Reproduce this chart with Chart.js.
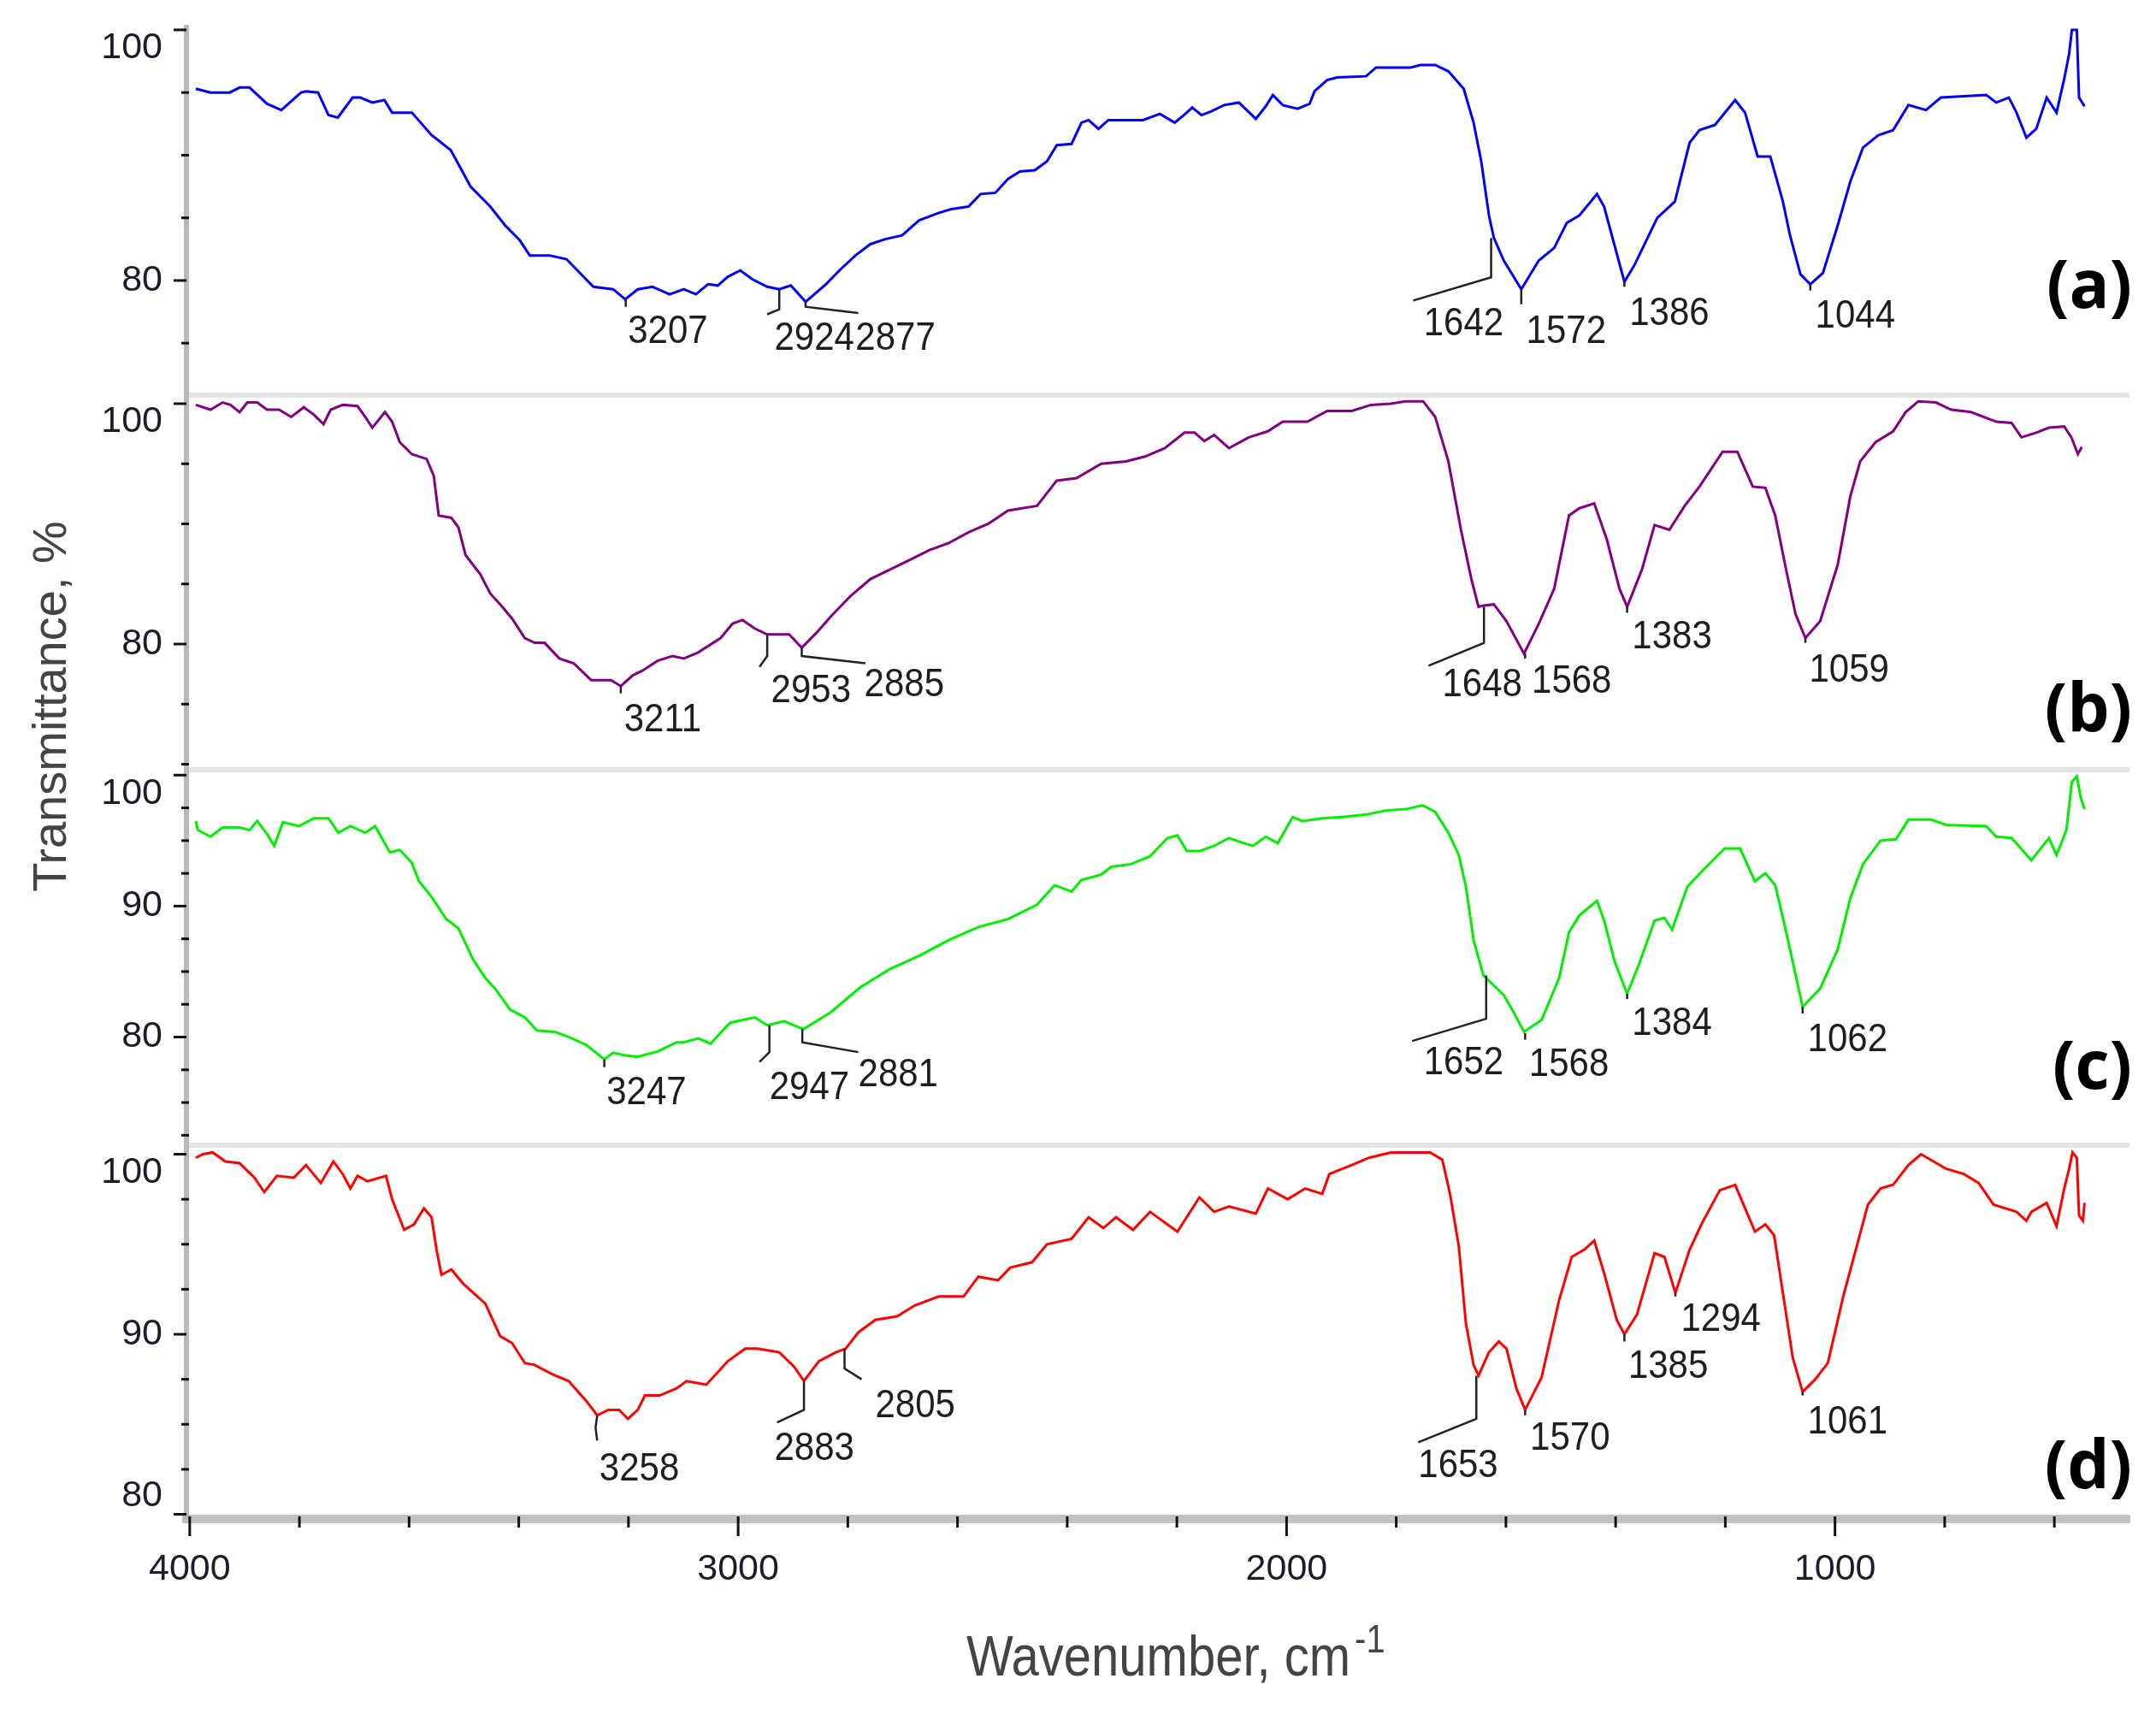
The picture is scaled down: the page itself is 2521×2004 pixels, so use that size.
<!DOCTYPE html>
<html>
<head>
<meta charset="utf-8">
<script src="https://cdn.jsdelivr.net/npm/chart.js@4.4.1/dist/chart.umd.min.js"></script>
<style>
  html, body { margin: 0; padding: 0; background: #fff; }
  #wrap { width: 2521px; height: 2004px; }
</style>
</head>
<body>
<div id="wrap"><canvas id="ftir" width="2521" height="2004"></canvas></div>
<script>
// spectra: wavenumber (cm-1) and transmittance (%)
const wnA = [3989,3962,3927,3909,3891,3859,3833,3797,3788,3766,3747,3730,3703,3689,3667,3645,3631,3595,3559,3524,
  3488,3452,3425,3398,3380,3344,3313,3264,3228,3206,3183,3156,3125,3099,3077,3055,3037,3019,2996,2974,
  2947,2925,2904,2877,2840,2813,2786,2759,2732,2701,2670,2634,2611,2580,2558,2531,2508,2486,2459,2437,
  2419,2392,2374,2361,2343,2325,2293,2262,2231,2204,2190,2172,2155,2137,2114,2087,2056,2038,2025,2007,
  1980,1958,1949,1926,1908,1855,1837,1774,1756,1729,1705,1677,1659,1645,1631,1622,1604,1572,1540,1512,
  1489,1466,1434,1421,1402,1384,1366,1324,1292,1265,1247,1219,1182,1164,1141,1118,1095,1082,1063,1045,
  1022,995,972,949,921,894,866,834,807,724,706,683,669,651,633,614,596,582,573,568,559,555,545];
const tA = [95.3,95.0,95.0,95.4,95.4,94.1,93.6,95.0,95.1,95.0,93.2,93.0,94.6,94.6,94.2,94.4,93.4,93.4,91.6,90.4,
  87.5,85.9,84.4,83.2,82.0,82.0,81.7,79.5,79.3,78.5,79.3,79.5,78.9,79.3,78.9,79.7,79.6,80.3,80.8,80.1,
  79.5,79.3,79.6,78.3,79.7,80.9,82.0,82.9,83.3,83.6,84.8,85.4,85.7,85.9,86.9,87.0,88.1,88.7,88.8,89.5,
  90.8,90.9,92.6,92.8,92.1,92.8,92.8,92.8,93.3,92.6,93.1,93.8,93.2,93.5,94.0,94.2,92.9,93.9,94.8,94.0,
  93.7,94.1,95.1,96.0,96.2,96.3,97.0,97.0,97.2,97.2,96.7,95.3,92.6,89.5,85.2,83.4,81.6,79.3,81.6,82.6,
  84.6,85.2,86.9,85.9,82.8,79.9,81.2,85.0,86.3,91.0,92.0,92.4,94.4,93.4,89.9,89.9,86.3,83.6,80.5,79.7,
  80.6,84.4,87.9,90.6,91.6,92.0,94.0,93.6,94.6,94.8,94.2,94.6,93.4,91.4,92.1,94.6,93.4,96.1,98.1,100.0,100.0,94.6,93.9];

const wnB = [3989,3962,3940,3926,3909,3895,3877,3859,3837,3815,3792,3774,3756,3743,3721,3694,3680,3667,3644,3631,
  3617,3595,3568,3555,3546,3523,3510,3497,3470,3452,3430,3412,3389,3371,3353,3326,3300,3268,3232,3214,
  3192,3174,3147,3120,3099,3073,3032,3010,2992,2970,2947,2907,2884,2858,2831,2795,2759,2723,2687,2652,
  2616,2580,2544,2508,2455,2419,2383,2338,2293,2258,2222,2186,2168,2150,2132,2105,2069,2034,2007,1962,
  1926,1881,1846,1810,1783,1751,1729,1705,1682,1663,1650,1640,1622,1599,1567,1540,1512,1485,1466,
  1439,1416,1393,1379,1352,1329,1302,1274,1247,1205,1178,1150,1127,1109,1091,1072,1054,1027,995,972,
  954,926,894,871,848,816,788,752,706,678,660,632,610,582,569,557,550];
const tB = [99.9,99.5,100.1,99.9,99.3,100.1,100.1,99.5,99.5,98.9,99.7,99.1,98.3,99.5,99.9,99.8,98.9,98.0,99.3,98.5,
  96.8,95.8,95.4,94.0,90.7,90.5,89.7,87.4,85.8,84.2,83.1,82.1,80.5,80.1,80.1,78.8,78.4,77.0,77.0,76.5,
  77.4,77.8,78.6,79.0,78.8,79.3,80.5,81.7,82.0,81.3,80.8,80.8,79.7,80.9,82.3,84.0,85.4,86.2,87.0,87.8,
  88.4,89.3,90.0,91.1,91.5,93.6,93.8,95.0,95.2,95.6,96.3,97.6,97.6,96.9,97.4,96.3,97.2,97.7,98.5,98.5,
  99.4,99.4,99.9,100.0,100.2,100.2,98.9,95.2,89.5,85.4,83.1,83.2,83.3,81.9,79.2,81.7,84.6,90.7,91.3,
  91.7,88.7,84.6,83.1,86.2,89.9,89.5,91.5,93.1,96.0,96.0,93.1,93.0,90.7,86.6,82.5,80.5,81.9,86.6,92.3,
  95.2,96.8,97.7,99.3,100.2,100.1,99.5,99.3,98.5,98.4,97.2,97.6,98.0,98.1,97.2,95.8,96.4];

const wnC = [3989,3985,3962,3940,3909,3891,3877,3859,3846,3830,3801,3774,3747,3729,3707,3680,3662,3635,3617,3595,
  3582,3559,3532,3510,3483,3461,3443,3416,3389,3367,3335,3308,3277,3259,3244,3228,3206,3183,3147,3112,
  3099,3073,3050,3026,3014,2970,2947,2916,2881,2831,2777,2723,2670,2616,2562,2508,2455,2423,2392,2374,
  2338,2320,2284,2249,2217,2199,2182,2159,2132,2105,2078,2061,2038,2016,1989,1971,1935,1899,1854,1819,
  1783,1752,1729,1705,1686,1673,1659,1641,1604,1586,1567,1535,1503,1485,1466,1434,1421,1402,1379,1357,
  1329,1311,1297,1269,1237,1201,1173,1146,1127,1109,1091,1059,1027,995,972,949,917,889,866,825,
  797,724,706,678,642,610,596,578,568,559,552,545];
const tC = [96.5,95.8,95.3,96.0,96.0,95.8,96.5,95.5,94.6,96.4,96.1,96.7,96.7,95.6,96.1,95.6,96.1,94.1,94.3,93.3,
  91.9,90.7,89.0,88.3,85.9,84.5,83.7,82.1,81.5,80.5,80.4,80.0,79.4,78.8,78.3,78.8,78.6,78.5,78.9,79.6,
  79.6,79.9,79.5,80.6,81.1,81.5,80.9,81.2,80.6,81.9,83.8,85.2,86.2,87.4,88.4,89.0,90.1,91.6,91.1,92.0,
  92.4,93.0,93.2,93.8,95.2,95.4,94.2,94.2,94.6,95.2,94.8,94.6,95.3,94.8,96.8,96.5,96.7,96.8,97.0,97.3,
  97.4,97.7,97.2,95.6,93.9,91.5,87.4,84.7,83.2,81.9,80.4,81.3,84.5,88.0,89.3,90.4,88.9,85.8,83.3,85.6,
  88.9,89.1,88.2,91.5,92.9,94.4,94.4,91.9,92.5,91.6,88.4,82.3,83.7,86.7,90.6,93.2,95.0,95.1,96.6,96.6,
  96.2,96.1,95.3,95.2,93.5,95.2,93.9,95.8,99.5,99.9,98.3,97.4];

const wnD = [3989,3976,3958,3935,3909,3882,3864,3841,3810,3788,3761,3738,3721,3707,3694,3676,3642,3631,3609,3591,
  3573,3559,3550,3541,3523,3501,3461,3434,3412,3389,3371,3340,3309,3277,3257,3237,3217,3201,3183,3170,
  3143,3112,3094,3058,3019,2987,2965,2925,2898,2880,2853,2822,2804,2781,2750,2710,2678,2634,2589,2562,
  2526,2504,2464,2437,2392,2361,2334,2311,2280,2249,2199,2159,2132,2105,2056,2034,1998,1966,1935,1922,
  1881,1850,1810,1774,1738,1716,1702,1686,1673,1659,1650,1631,1613,1599,1581,1565,1535,1503,1480,1457,
  1439,1421,1398,1384,1361,1329,1311,1291,1265,1242,1210,1182,1164,1146,1127,1111,1095,1077,1059,1036,
  1013,985,962,940,917,894,866,843,820,798,765,738,711,669,651,642,614,596,582,573,567,559,555,548,545];
const tD = [99.8,100.0,100.1,99.6,99.5,98.7,97.9,98.8,98.7,99.4,98.4,99.6,98.9,98.1,98.8,98.5,98.8,97.5,95.8,96.1,
  97.0,96.5,94.7,93.3,93.6,92.8,91.7,89.9,89.5,88.4,88.3,87.8,87.4,86.3,85.5,85.8,85.8,85.3,85.8,86.6,
  86.6,87.0,87.4,87.2,88.5,89.2,89.2,89.0,88.2,87.4,88.5,89.0,89.2,90.1,90.8,91.0,91.6,92.1,92.1,93.2,
  93.0,93.7,94.0,95.0,95.3,96.5,95.9,96.5,95.8,96.8,95.7,97.6,96.8,97.1,96.7,98.1,97.5,98.1,97.8,98.9,
  99.4,99.8,100.1,100.1,100.1,99.7,97.8,94.9,90.6,88.3,87.7,89.0,89.6,89.2,87.0,85.8,87.6,91.9,94.3,94.7,
  95.2,93.4,90.8,90.0,91.1,94.5,94.3,92.3,94.7,96.2,98.0,98.3,97.0,95.7,96.1,95.5,92.3,88.7,86.8,87.5,
  88.4,92.1,94.7,97.2,98.1,98.3,99.4,100.0,99.6,99.2,98.9,98.4,97.2,96.8,96.3,96.8,97.3,96.0,98.1,99.2,
  100.1,99.8,96.6,96.3,97.3];

const xTickLabels = [4000, 3000, 2000, 1000];
const yLabelsAB = [80, 100];
const yLabelsCD = [80, 90, 100];
const panelNames = ['(a)', '(b)', '(c)', '(d)'];

// peak callouts: leader path and text anchor in data units (wavenumber, %)
const callouts = [
  { y: 'ya', text: '3207', path: [[3205, 78.5], [3205, 77.9]], at: [3201, 75.9] },
  { y: 'ya', text: '2924', path: [[2925, 79.3], [2925, 77.7], [2947, 77.3]], at: [2934, 75.35] },
  { y: 'ya', text: '2877', path: [[2877, 78.3], [2877, 77.9], [2781, 77.4]], at: [2786, 75.35] },
  { y: 'ya', text: '1642', path: [[1627, 83.4], [1627, 80.25], [1769, 78.4]], at: [1750, 76.5] },
  { y: 'ya', text: '1572', path: [[1572, 79.3], [1572, 78.1]], at: [1563, 75.9] },
  { y: 'ya', text: '1386', path: [[1384, 79.9], [1384, 79.5]], at: [1375, 77.3] },
  { y: 'ya', text: '1044', path: [[1045, 79.7], [1045, 79.2]], at: [1036, 77.1] },
  { y: 'yb', text: '3211', path: [[3214, 76.5], [3214, 75.9]], at: [3208, 73.7] },
  { y: 'yb', text: '2953', path: [[2947, 80.8], [2947, 79.0], [2961, 78.1]], at: [2940, 76.1] },
  { y: 'yb', text: '2885', path: [[2884, 79.7], [2884, 79.0], [2768, 78.4]], at: [2770, 76.6] },
  { y: 'yb', text: '1648', path: [[1640, 83.1], [1640, 80.1], [1741, 78.2]], at: [1716, 76.6] },
  { y: 'yb', text: '1568', path: [[1565, 79.2], [1565, 78.8]], at: [1553, 76.9] },
  { y: 'yb', text: '1383', path: [[1379, 83.1], [1379, 82.6]], at: [1370, 80.6] },
  { y: 'yb', text: '1059', path: [[1054, 80.5], [1054, 80.1]], at: [1047, 77.8] },
  { y: 'yc', text: '3247', path: [[3244, 78.3], [3244, 77.7]], at: [3240, 75.7] },
  { y: 'yc', text: '2947', path: [[2943, 80.9], [2943, 78.85], [2961, 78.1]], at: [2943, 76.1] },
  { y: 'yc', text: '2881', path: [[2883, 80.6], [2883, 79.6], [2781, 78.85]], at: [2781, 77.1] },
  { y: 'yc', text: '1652', path: [[1636, 84.7], [1636, 81.4], [1771, 79.7]], at: [1750, 78.0] },
  { y: 'yc', text: '1568', path: [[1565, 80.3], [1565, 79.8]], at: [1558, 77.85] },
  { y: 'yc', text: '1384', path: [[1379, 83.3], [1379, 82.9]], at: [1370, 81.0] },
  { y: 'yc', text: '1062', path: [[1059, 82.3], [1059, 81.8]], at: [1050, 79.8] },
  { y: 'yd', text: '3258', path: [[3257, 85.5], [3260, 84.8], [3257, 84.1]], at: [3253, 82.5] },
  { y: 'yd', text: '2883', path: [[2880, 87.4], [2880, 85.8], [2929, 85.1]], at: [2934, 83.65] },
  { y: 'yd', text: '2805', path: [[2806, 89.2], [2806, 88.1], [2775, 87.5]], at: [2750, 86.0] },
  { y: 'yd', text: '1653', path: [[1654, 87.7], [1654, 85.3], [1760, 84.0]], at: [1760, 82.7] },
  { y: 'yd', text: '1570', path: [[1565, 85.8], [1565, 85.5]], at: [1556, 84.2] },
  { y: 'yd', text: '1385', path: [[1384, 90.0], [1384, 89.6]], at: [1377, 88.2] },
  { y: 'yd', text: '1294', path: [[1291, 92.3], [1291, 92.1]], at: [1281, 90.8] },
  { y: 'yd', text: '1061', path: [[1059, 86.8], [1059, 86.6]], at: [1050, 85.1] }
];
// where the (a)..(d) tags sit, in each panel's % units
const panelTagAt = [79.3, 74.3, 77.5, 82.5];

const FONT = '"Liberation Sans", Arial, sans-serif';
const panelIds = ['ya', 'yb', 'yc', 'yd'];
const panelLabels = { ya: yLabelsAB, yb: yLabelsAB, yc: yLabelsCD, yd: yLabelsCD };

function pts(wn, t) {
  return wn.map((w, i) => ({ x: w, y: t[i] }));
}

// labels at the panel edges are nudged inside, as in the original software
function yAxis(min, max, step, labels, weight, size) {
  return {
    type: 'linear', position: 'left', stack: 'panels', stackWeight: size, weight: weight,
    min: min, max: max,
    grid: { display: false, drawTicks: false },
    border: { display: true, color: '#b9b9b9', width: 6 },
    ticks: {
      stepSize: step, includeBounds: false, autoSkip: false, padding: 28, color: '#1c1c2a',
      font: { family: FONT, size: 43, lineHeight: 1 },
      callback: function (v) {
        if (!labels.includes(v)) return '';
        if (v === 100) return ['', '100'];
        if (v - min < 1) return [String(v), ''];
        return String(v);
      }
    },
    afterFit: function (s) { s.width = 218; s.paddingTop = 0; s.paddingBottom = 0; }
  };
}

const background = {
  id: 'background',
  beforeDraw(chart) {
    const ctx = chart.ctx;
    ctx.save();
    ctx.fillStyle = '#fff';
    ctx.fillRect(0, 0, chart.width, chart.height);
    ctx.restore();
  }
};

const separators = {
  id: 'separators',
  beforeDatasetsDraw(chart) {
    const ctx = chart.ctx, area = chart.chartArea;
    ctx.save();
    ctx.strokeStyle = '#e4e4e4';
    ctx.lineWidth = 6;
    ['yb', 'yc', 'yd'].forEach(id => {
      const top = chart.scales[id].top;
      ctx.beginPath();
      ctx.moveTo(area.left + 3, top);
      ctx.lineTo(area.right, top);
      ctx.stroke();
    });
    ctx.restore();
  }
};

const tickMarks = {
  id: 'tickMarks',
  afterDraw(chart) {
    const ctx = chart.ctx, area = chart.chartArea;
    ctx.save();
    ctx.strokeStyle = '#111';
    ctx.lineWidth = 3;
    const xs = chart.scales.x;
    xs.ticks.forEach(t => {
      const px = xs.getPixelForValue(t.value);
      const len = xTickLabels.includes(t.value) ? 20 : 10;
      ctx.beginPath();
      ctx.moveTo(px, area.bottom - 3);
      ctx.lineTo(px, area.bottom + len);
      ctx.stroke();
    });
    panelIds.forEach(id => {
      const ys = chart.scales[id];
      ys.ticks.forEach(t => {
        const py = ys.getPixelForValue(t.value);
        const major = panelLabels[id].includes(t.value);
        ctx.beginPath();
        ctx.moveTo(area.left - (major ? 15 : 6), py);
        ctx.lineTo(area.left + (major ? 0 : 3), py);
        ctx.stroke();
      });
    });
    ctx.restore();
  }
};

const annotations = {
  id: 'annotations',
  afterDatasetsDraw(chart) {
    const ctx = chart.ctx, area = chart.chartArea, xs = chart.scales.x;
    ctx.save();
    ctx.strokeStyle = '#222';
    ctx.lineWidth = 2.5;
    ctx.fillStyle = '#1e1e1e';
    ctx.font = '42px ' + FONT;
    ctx.textAlign = 'left';
    ctx.textBaseline = 'middle';
    callouts.forEach(c => {
      const ys = chart.scales[c.y];
      ctx.beginPath();
      c.path.forEach((p, i) => {
        const px = xs.getPixelForValue(p[0]), py = ys.getPixelForValue(p[1]);
        if (i === 0) ctx.moveTo(px, py); else ctx.lineTo(px, py);
      });
      ctx.stroke();
      ctx.save();
      ctx.translate(xs.getPixelForValue(c.at[0]), ys.getPixelForValue(c.at[1]));
      ctx.scale(1, 1.12);
      ctx.fillText(c.text, 0, 0);
      ctx.restore();
    });

    // panel tags
    ctx.fillStyle = '#000';
    ctx.font = 'bold 78px "Open Sans", "Noto Sans", sans-serif';
    ctx.textAlign = 'right';
    panelIds.forEach((id, i) => {
      ctx.fillText(panelNames[i], area.right + 3, chart.scales[id].getPixelForValue(panelTagAt[i]));
    });

    // axis titles
    ctx.fillStyle = '#444';
    ctx.font = '56px ' + FONT;
    ctx.textAlign = 'center';
    ctx.save();
    ctx.translate(area.left - 156, area.top + 794);
    ctx.rotate(-Math.PI / 2);
    ctx.fillText('Transmittance, %', 0, 0);
    ctx.restore();

    ctx.save();
    ctx.textAlign = 'left';
    ctx.font = '58px ' + FONT;
    ctx.translate(area.left + 912, area.bottom + 165);
    ctx.scale(1, 1.15);
    ctx.fillText('Wavenumber, cm', 0, 0);
    const w = ctx.measureText('Wavenumber, cm').width;
    ctx.font = '40px ' + FONT;
    ctx.fillText('-1', w + 5, -19);
    ctx.restore();
    ctx.restore();
  }
};

const line = (wn, t, id, color) => ({
  data: pts(wn, t), yAxisID: id, borderColor: color, borderWidth: 3,
  pointRadius: 0, fill: false, tension: 0
});

new Chart(document.getElementById('ftir'), {
  type: 'line',
  data: {
    datasets: [
      line(wnA, tA, 'ya', '#0000ff'),
      line(wnB, tB, 'yb', '#800080'),
      line(wnC, tC, 'yc', '#00ee00'),
      line(wnD, tD, 'yd', '#ff0000')
    ]
  },
  options: {
    responsive: false,
    animation: false,
    devicePixelRatio: 1,
    layout: { padding: { top: 32, right: 31, bottom: 0, left: 0 } },
    plugins: { legend: { display: false }, tooltip: { enabled: false } },
    scales: {
      x: {
        type: 'linear', position: 'bottom', reverse: true, min: 463, max: 4006,
        grid: { display: false, drawTicks: false },
        border: { display: true, color: '#c2c2c2', width: 10 },
        ticks: {
          stepSize: 200, includeBounds: false, autoSkip: false, maxRotation: 0, minRotation: 0,
          padding: 33, color: '#1c1c2a', font: { family: FONT, size: 43 },
          callback: v => xTickLabels.includes(v) ? String(v) : ''
        },
        afterFit: function (s) { s.height = 228; s.paddingLeft = 0; s.paddingRight = 0; }
      },
      ya: yAxis(70.85, 100.2, 5, yLabelsAB, 4, 430),
      yb: yAxis(69.54, 100.71, 5, yLabelsAB, 3, 438),
      yc: yAxis(71.74, 100.41, 2.5, yLabelsCD, 2, 439),
      yd: yAxis(79.74, 100.5, 2.5, yLabelsCD, 1, 437)
    }
  },
  plugins: [background, separators, tickMarks, annotations]
});
</script>
</body>
</html>
